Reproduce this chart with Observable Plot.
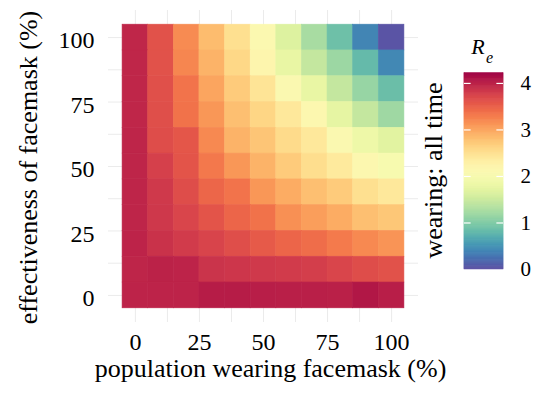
<!DOCTYPE html>
<html>
<head>
<meta charset="utf-8">
<script src="https://cdn.jsdelivr.net/npm/d3@7"></script>
<script src="https://cdn.jsdelivr.net/npm/@observablehq/plot@0.6"></script>
<style>
  html, body { margin: 0; padding: 0; background: white; }
  #wrap { position: relative; width: 554px; height: 398px; overflow: hidden; background: white; }
  #wrap svg { position: absolute; top: 0; }
  #wrap svg text { font-family: 'Liberation Serif', 'Times New Roman', serif !important; }
</style>
</head>
<body>
<div id="wrap"></div>
<script>
// population wearing facemask (%) – columns
const wearing = [0, 10, 20, 30, 40, 50, 60, 70, 80, 90, 100];
// effectiveness of facemask (%) – rows, top to bottom
const effectiveness = [100, 90, 80, 70, 60, 50, 40, 30, 20, 10, 0];
// R_e values per row (effectiveness), by wearing 0..100
const re_e100 = [3.96, 3.62, 3.18, 2.83, 2.50, 2.12, 1.66, 1.26, 0.88, 0.40, 0.04];
const re_e90  = [3.96, 3.62, 3.22, 2.90, 2.58, 2.20, 1.78, 1.45, 1.18, 0.82, 0.42];
const re_e80  = [3.96, 3.63, 3.35, 3.00, 2.70, 2.45, 2.10, 1.78, 1.45, 1.15, 0.86];
const re_e70  = [3.96, 3.64, 3.36, 3.10, 2.80, 2.60, 2.40, 2.15, 1.75, 1.45, 1.20];
const re_e60  = [3.97, 3.66, 3.58, 3.20, 2.90, 2.75, 2.55, 2.40, 2.10, 1.85, 1.70];
const re_e50  = [3.97, 3.76, 3.60, 3.32, 3.10, 2.90, 2.70, 2.52, 2.38, 2.15, 2.00];
const re_e40  = [3.97, 3.82, 3.66, 3.45, 3.35, 3.10, 2.95, 2.80, 2.70, 2.50, 2.40];
const re_e30  = [3.97, 3.83, 3.72, 3.60, 3.46, 3.36, 3.15, 3.05, 2.95, 2.80, 2.74];
const re_e20  = [3.98, 3.87, 3.80, 3.73, 3.65, 3.55, 3.46, 3.40, 3.30, 3.20, 3.12];
const re_e10  = [3.97, 3.99, 3.98, 3.86, 3.84, 3.82, 3.80, 3.78, 3.72, 3.66, 3.62];
const re_e0   = [3.98, 3.98, 3.98, 4.03, 4.03, 4.02, 4.01, 4.01, 4.00, 4.07, 4.02];
const rows = [re_e100, re_e90, re_e80, re_e70, re_e60, re_e50, re_e40, re_e30, re_e20, re_e10, re_e0];

const axisTicks = [0, 25, 50, 75, 100];
const gridTicks = [0, 12.5, 25, 37.5, 50, 62.5, 75, 87.5, 100];
const legendTicks = [0, 1, 2, 3, 4];
const reDomain = [0, 4.22];

const xTitle = "population wearing facemask (%)";
const yTitle = "effectiveness of facemask (%)";
const facetTitle = "wearing: all time";

const cells = effectiveness.flatMap((e, i) => rows[i].map((v, j) => ({p: wearing[j], e, re: v})));

const colorOpts = {type: "linear", scheme: "spectral", reverse: true, domain: reDomain};
const font = "Liberation Serif";

const main = Plot.plot({
  width: 554, height: 398,
  marginLeft: 108, marginRight: 136, marginTop: 10, marginBottom: 76,
  style: {fontFamily: font, fontSize: "24px", background: "white", color: "black"},
  x: {domain: [-10.5, 110.5], axis: null},
  y: {domain: [-10.5, 110.5], axis: null},
  color: colorOpts,
  marks: [
    Plot.gridX(gridTicks, {stroke: "#ebebeb", strokeOpacity: 1, strokeWidth: 1}),
    Plot.gridY(gridTicks, {stroke: "#ebebeb", strokeOpacity: 1, strokeWidth: 1}),
    Plot.rect(cells, {x1: d => d.p - 5, x2: d => d.p + 5, y1: d => d.e - 5, y2: d => d.e + 5,
      fill: "re", stroke: "re", strokeWidth: 0.6}),
    Plot.axisX(axisTicks, {tickSize: 0, tickPadding: 10, fontSize: 24, fontFamily: font, label: null}),
    Plot.axisY(axisTicks, {tickSize: 0, tickPadding: 14, fontSize: 24, fontFamily: font, dy: 3, label: null}),
    Plot.text([xTitle], {text: d => d, frameAnchor: "bottom", textAnchor: "middle", dy: 54, dx: 7, fontSize: 26, fontFamily: font}),
    Plot.text([yTitle], {text: d => d, frameAnchor: "left", textAnchor: "middle", rotate: -90, dx: -80, dy: 1, fontSize: 26, fontFamily: font}),
    Plot.text([facetTitle], {text: d => d, frameAnchor: "right", textAnchor: "middle", rotate: -90, dx: 15, dy: 4, fontSize: 26, fontFamily: font})
  ]
});

const legendSteps = d3.range(0, 422).map(i => ({lo: i / 100, hi: Math.min((i + 1) / 100, reDomain[1])}));

const legend = Plot.plot({
  width: 114, height: 398,
  marginLeft: 24, marginRight: 51, marginTop: 72.7, marginBottom: 129,
  style: {fontFamily: font, fontSize: "21px", background: "transparent", color: "black", overflow: "visible"},
  x: {domain: [0, 1], axis: null},
  y: {domain: reDomain, axis: null},
  color: colorOpts,
  marks: [
    Plot.rect(legendSteps, {x1: 0, x2: 1, y1: "lo", y2: "hi", fill: d => (d.lo + d.hi) / 2, stroke: d => (d.lo + d.hi) / 2, strokeWidth: 0.5}),
    Plot.ruleY(legendTicks.slice(1), {x1: 0, x2: 0.17, stroke: "white", strokeWidth: 1.2}),
    Plot.ruleY(legendTicks.slice(1), {x1: 0.83, x2: 1, stroke: "white", strokeWidth: 1.2}),
    Plot.axisY(legendTicks, {anchor: "right", tickSize: 0, tickPadding: 17, fontSize: 21, fontFamily: font, label: null}),
    Plot.text(["R"], {text: d => d, frameAnchor: "top-left", textAnchor: "start", lineAnchor: "middle", dx: 6.7, dy: -26, fontSize: 22, fontStyle: "italic", fontFamily: font}),
    Plot.text(["e"], {text: d => d, frameAnchor: "top-left", textAnchor: "start", lineAnchor: "middle", dx: 21.5, dy: -15.5, fontSize: 16, fontStyle: "italic", fontFamily: font})
  ]
});

const wrap = document.getElementById("wrap");
main.style.left = "0px";
legend.style.left = "440px";
wrap.appendChild(main);
wrap.appendChild(legend);
</script>
</body>
</html>
